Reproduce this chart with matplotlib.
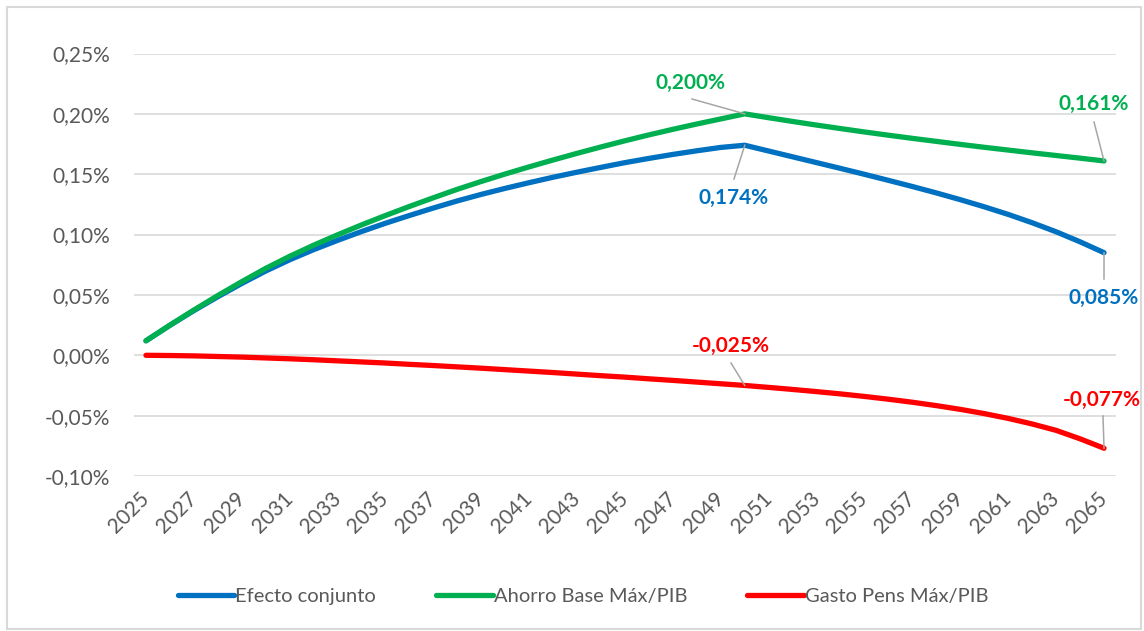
import matplotlib
matplotlib.use("Agg")
import matplotlib.pyplot as plt
import numpy as np
from matplotlib.patches import Rectangle
from matplotlib.ticker import FuncFormatter, FixedLocator

plt.rcParams['font.family'] = ['Lato', 'DejaVu Sans']

years = np.arange(2025, 2066)

# % del PIB
efecto = [0.0120, 0.0248, 0.0370, 0.0485, 0.0595, 0.0698, 0.0791, 0.0875, 0.0952, 0.1025,
          0.1094, 0.1158, 0.1220, 0.1279, 0.1333, 0.1383, 0.1430, 0.1475, 0.1517, 0.1557,
          0.1596, 0.1631, 0.1664, 0.1694, 0.1722, 0.1740, 0.1692, 0.1644, 0.1596, 0.1548,
          0.1499, 0.1449, 0.1398, 0.1345, 0.1289, 0.1230, 0.1167, 0.1098, 0.1023, 0.0940,
          0.0850]
ahorro = [0.0120, 0.0250, 0.0375, 0.0495, 0.0610, 0.0720, 0.0820, 0.0912, 0.0998, 0.1080,
          0.1158, 0.1233, 0.1305, 0.1375, 0.1440, 0.1502, 0.1561, 0.1618, 0.1673, 0.1726,
          0.1777, 0.1826, 0.1872, 0.1916, 0.1958, 0.2000, 0.1968, 0.1937, 0.1907, 0.1878,
          0.1850, 0.1823, 0.1797, 0.1772, 0.1747, 0.1723, 0.1700, 0.1677, 0.1655, 0.1633,
          0.1610]
gasto = [0.0000, -0.0002, -0.0005, -0.0010, -0.0015, -0.0022, -0.0029, -0.0037, -0.0046, -0.0055,
         -0.0064, -0.0075, -0.0085, -0.0096, -0.0107, -0.0119, -0.0131, -0.0143, -0.0156, -0.0169,
         -0.0181, -0.0195, -0.0208, -0.0222, -0.0236, -0.0250, -0.0266, -0.0283, -0.0301, -0.0320,
         -0.0341, -0.0364, -0.0389, -0.0417, -0.0448, -0.0483, -0.0523, -0.0569, -0.0622, -0.0692,
         -0.0770]

labels = ["Efecto conjunto", "Ahorro Base Máx/PIB", "Gasto Pens Máx/PIB"]
colors = ["#0070C0", "#00B050", "#FF0000"]

fig = plt.figure(figsize=(11.44, 6.31), dpi=100)
ax = fig.add_axes([134/1144, 1-476/631, (1116-134)/1144, (476-53.5)/631])

for serie, lab, col in zip([efecto, ahorro, gasto], labels, colors):
    ax.plot(years, serie, color=col, lw=3.8, solid_capstyle='round', label=lab, zorder=3)

ax.set_xlim(2024.5, 2065.5)
ax.set_ylim(-0.10, 0.25)
ax.yaxis.set_major_locator(FixedLocator(np.arange(-0.10, 0.2501, 0.05)))
ax.yaxis.set_major_formatter(FuncFormatter(lambda v, p: f"{v:.2f}%".replace(".", ",").replace("-0,00", "0,00")))
ax.set_xticks(years[::2])
ax.set_xticklabels([str(y) for y in years[::2]], rotation=45, ha='right', va='center',
                   rotation_mode='anchor')
ax.grid(axis='y', color='#d9d9d9', lw=1.2, zorder=0)
for s in ax.spines.values():
    s.set_visible(False)
ax.tick_params(axis='both', length=0, labelsize=15, labelcolor='#595959')
ax.tick_params(axis='y', pad=17)
ax.tick_params(axis='x', pad=14)

# etiquetas de datos: (x, y, texto, pos. texto px, inicio guía px, color)
notas = [
    (2050, 0.200, "0,200%", 690, 83, 692, 99, colors[1]),
    (2050, 0.174, "0,174%", 734, 198, 734, 179, colors[0]),
    (2065, 0.161, "0,161%", 1094, 104, 1094, 122, colors[1]),
    (2065, 0.085, "0,085%", 1104, 298, 1104, 279, colors[0]),
    (2050, -0.025, "-0,025%", 731, 346, 731, 363, colors[2]),
    (2065, -0.077, "-0,077%", 1102, 400, 1103, 416, colors[2]),
]
for x, y, txt, tx, ty, lx, ly, col in notas:
    fig.text(tx/1144, 1-ty/631, txt, color=col, fontsize=15, fontweight='bold',
             ha='center', va='center')
    lxd, lyd = ax.transData.inverted().transform(fig.transFigure.transform((lx/1144, 1-ly/631)))
    ax.plot([lxd, x], [lyd, y], color='#a6a6a6', lw=1.1, zorder=4, clip_on=False)

fig.legend(loc='center', bbox_to_anchor=(583/1144, 1-596/631), ncol=3, frameon=False,
           fontsize=14.5, labelcolor='#595959', handlelength=2.8, handletextpad=0.05,
           columnspacing=3.0)

fig.patches.append(Rectangle((7/1144, 2/631), 1134/1144, 622/631, transform=fig.transFigure,
                             fill=False, edgecolor='#d9d9d9', lw=1.5))

fig.savefig("out.png", dpi=100)
